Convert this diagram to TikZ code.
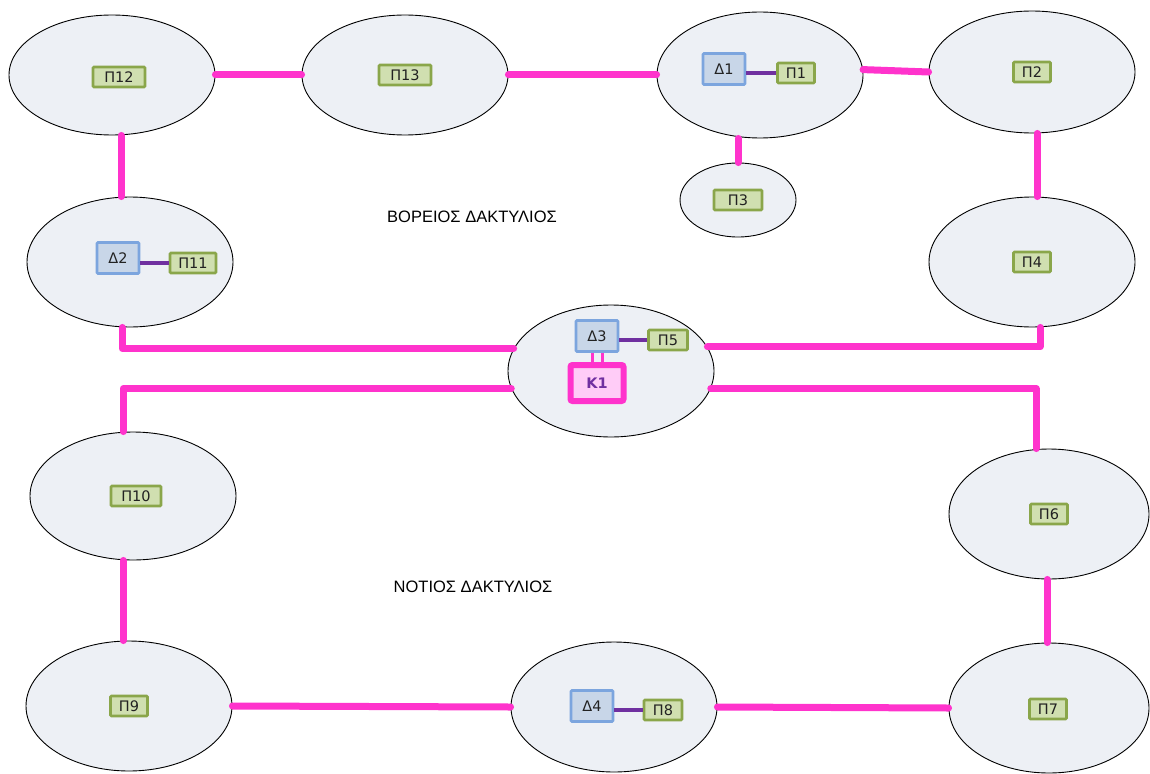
\documentclass[tikz,border=0pt]{standalone}
\usepackage{fontspec}
\setmainfont{DejaVu Sans}
\newfontfamily\lblfont{Liberation Sans}
\usetikzlibrary{shapes.geometric}
\definecolor{ringpink}{HTML}{FF33CC}
\definecolor{linkpurple}{HTML}{7030A0}
\definecolor{ellfill}{HTML}{EDF0F5}
\definecolor{dfill}{HTML}{C8D6E8}
\definecolor{ddraw}{HTML}{7CA5DE}
\definecolor{pfill}{HTML}{D0DFB0}
\definecolor{pdraw}{HTML}{8AA64A}
\definecolor{kfill}{HTML}{FFCCF7}
\definecolor{txt}{HTML}{222222}
\tikzset{
  site/.style={ellipse, draw=black, line width=0.9pt, fill=ellfill, inner sep=0pt},
  dbox/.style={rectangle, draw=ddraw, fill=dfill, line width=2.6pt, rounded corners=1pt, inner sep=0pt, minimum width=42pt, minimum height=31pt, font=\fontsize{14.5}{16}\selectfont, text=txt},
  pbox/.style={rectangle, draw=pdraw, fill=pfill, line width=2.6pt, rounded corners=1pt, inner sep=0pt, minimum height=20pt, font=\fontsize{14.5}{16}\selectfont, text=txt},
  kbox/.style={rectangle, draw=ringpink, fill=kfill, line width=6pt, rounded corners=2pt, inner sep=0pt, minimum width=53pt, minimum height=36pt, font=\bfseries\fontsize{14.5}{16}\selectfont, text=linkpurple},
  ring/.style={draw=ringpink, line width=7pt, line cap=round},
  link/.style={draw=linkpurple, line width=4pt},
  klink/.style={draw=ringpink, line width=3pt},
  lbl/.style={font=\lblfont\fontsize{16.5}{18}\selectfont, text=black}
}
\begin{document}
\begin{tikzpicture}[x=1pt,y=-1pt]
\useasboundingbox (0,0) rectangle (1150,773);
% sites
\node[site, minimum width=206pt, minimum height=120pt] (e12) at (112,75) {};
\node[site, minimum width=206pt, minimum height=120pt] (e13) at (405,75) {};
\node[site, minimum width=206pt, minimum height=126pt] (e1) at (760,75) {};
\node[site, minimum width=206pt, minimum height=122pt] (e2) at (1032,72) {};
\node[site, minimum width=116pt, minimum height=74pt] (e3) at (738,200) {};
\node[site, minimum width=206pt, minimum height=130pt] (e11) at (130,262) {};
\node[site, minimum width=206pt, minimum height=130pt] (e4) at (1032,262) {};
\node[site, minimum width=206pt, minimum height=132pt] (e5) at (611,371) {};
\node[site, minimum width=206pt, minimum height=128pt] (e10) at (133,496) {};
\node[site, minimum width=200pt, minimum height=130pt] (e6) at (1049,514) {};
\node[site, minimum width=206pt, minimum height=130pt] (e9) at (129,706) {};
\node[site, minimum width=206pt, minimum height=130pt] (e8) at (614,707) {};
\node[site, minimum width=200pt, minimum height=130pt] (e7) at (1049,708) {};
% boxes
\node[pbox, minimum width=52pt] (p12) at (119,77) {Π12};
\node[pbox, minimum width=52pt] (p13) at (405,75) {Π13};
\node[dbox] (d1) at (724,69) {Δ1};
\node[pbox, minimum width=37pt] (p1) at (796,73) {Π1};
\node[pbox, minimum width=37pt] (p2) at (1032,72) {Π2};
\node[pbox, minimum width=48pt] (p3) at (738,200) {Π3};
\node[dbox] (d2) at (118,258) {Δ2};
\node[pbox, minimum width=46pt] (p11) at (193,263) {Π11};
\node[pbox, minimum width=37pt] (p4) at (1032,262) {Π4};
\node[dbox] (d3) at (597,336) {Δ3};
\node[pbox, minimum width=39pt] (p5) at (668,340) {Π5};
\node[kbox] (k1) at (597,383) {Κ1};
\node[pbox, minimum width=50pt] (p10) at (136,496) {Π10};
\node[pbox, minimum width=37pt] (p6) at (1049,514) {Π6};
\node[pbox, minimum width=37pt] (p9) at (129,706) {Π9};
\node[dbox] (d4) at (592,706) {Δ4};
\node[pbox, minimum width=38pt] (p8) at (663,710) {Π8};
\node[pbox, minimum width=37pt] (p7) at (1048,709) {Π7};
% labels
\node[lbl] (north) at (472,217) {ΒΟΡΕΙΟΣ ΔΑΚΤΥΛΙΟΣ};
\node[lbl] (south) at (473,587) {ΝΟΤΙΟΣ ΔΑΚΤΥΛΙΟΣ};
% local links
\draw[link] (p1.west -| d1.east) -- (p1.west);
\draw[link] (p11.west -| d2.east) -- (p11.west);
\draw[link] (p5.west -| d3.east) -- (p5.west);
\draw[link] (p8.west -| d4.east) -- (p8.west);
\draw[klink] ([xshift=-5pt]d3.south) -- ([xshift=-5pt]k1.north);
\draw[klink] ([xshift=5pt]d3.south) -- ([xshift=5pt]k1.north);
% ring connectors
\draw[ring] (e12.east) -- (e13.west);
\draw[ring] (e13.east) -- (e1.west);
\draw[ring] (e1.3) -- (e2.west);
\draw[ring] (e3.north) -- (e3.north |- e1.south);
\draw[ring] ([xshift=9pt]e12.south) -- ([xshift=-9pt]e11.north);
\draw[ring] ([xshift=5pt]e2.south) -- ([xshift=5pt]e4.north);
\draw[ring, line join=round] ([xshift=-8pt]e11.south) |- (e5.167);
\draw[ring, line join=round] ([xshift=8pt]e4.south) |- (e5.14);
\draw[ring, line join=round] (e5.190) -| ([xshift=-10pt]e10.north);
\draw[ring, line join=round] (e5.350) -| ([xshift=-13pt]e6.north);
\draw[ring] ([xshift=-10pt]e10.south) -- ([xshift=-10pt]e10.south |- e9.north);
\draw[ring] ([xshift=-2pt]e6.south) -- ([xshift=-2pt]e7.north);
\draw[ring] (e9.east) -- (e8.west);
\draw[ring] (e8.east) -- (e7.west);
\end{tikzpicture}
\end{document}
